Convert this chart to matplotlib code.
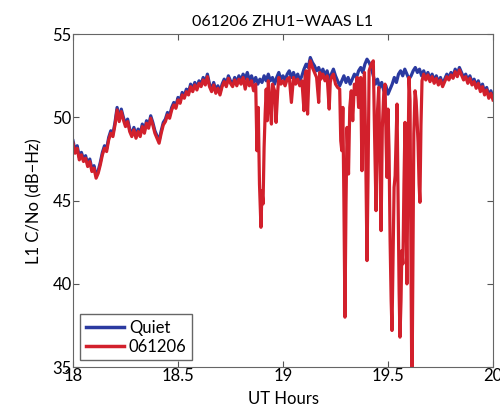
import numpy as np
import matplotlib
matplotlib.use("Agg")
from matplotlib import pyplot as plt

plt.rcParams["font.family"] = ["Lato", "DejaVu Sans"]

# quiet-day C/No, one sample every 0.01 h from 18.00 to 20.00
quiet_t = np.round(np.linspace(18.0, 20.0, 201), 3)
quiet_v = [
    48.6, 48.0, 48.3, 47.6, 47.9, 47.5, 47.7, 47.2, 47.5, 46.9,
    47.1, 46.5, 46.8, 47.3, 47.9, 48.3, 48.1, 48.8, 49.2, 49.0,
    49.7, 50.6, 49.9, 50.5, 50.0, 49.6, 49.9, 49.3, 49.0, 49.4,
    48.9, 49.3, 49.0, 49.6, 49.2, 49.8, 49.5, 50.1, 49.7, 49.2,
    48.9, 48.6, 49.2, 49.7, 49.9, 50.3, 50.1, 50.6, 50.9, 50.7,
    51.2, 51.0, 51.5, 51.3, 51.7, 51.5, 52.0, 51.7, 52.1, 51.8,
    52.2, 52.0, 52.4, 52.1, 52.6, 52.0, 51.7, 52.1, 51.6, 51.9,
    51.5, 52.0, 52.3, 52.0, 52.5, 52.2, 52.0, 52.4, 52.1, 52.5,
    52.2, 52.6, 52.3, 52.7, 52.2, 52.5, 52.1, 52.4, 52.0, 52.3,
    52.1, 52.5, 52.2, 52.6, 52.2, 52.4, 52.0, 52.4, 52.7, 52.3,
    52.5, 52.2, 52.6, 52.8, 52.4, 52.7, 52.3, 52.6, 52.2, 52.5,
    52.9, 53.2, 53.0, 53.6, 53.3, 53.1, 52.8, 53.0, 52.6, 52.9,
    52.5, 52.8, 52.3, 52.6, 52.9, 52.5, 52.2, 51.9, 52.2, 52.5,
    52.1, 52.4, 52.0, 52.3, 52.6, 52.4, 52.8, 53.0, 52.7, 53.2,
    53.5, 53.3, 53.0, 52.5, 52.0, 52.3, 51.8, 52.1, 51.6, 51.9,
    51.4, 51.7, 52.0, 52.4, 52.1, 52.6, 52.8, 52.5, 52.9, 52.6,
    52.3, 52.5, 52.8, 53.0, 52.7, 52.9, 52.5, 52.8, 52.4, 52.7,
    52.3, 52.6, 52.2, 52.5, 52.1, 52.4, 52.0, 52.3, 52.6, 52.4,
    52.7, 52.5, 52.9, 52.6, 53.0, 52.7, 52.4, 52.6, 52.2, 52.5,
    52.1, 52.3, 51.9, 52.2, 51.7, 52.0, 51.5, 51.8, 51.3, 51.6,
    51.2,
]

# 061206 during the scintillation period (18.78 - 19.67 h)
storm_t = [
    18.780, 18.790, 18.800, 18.810, 18.820, 18.830, 18.840, 18.850, 18.860, 18.870,
    18.876, 18.882, 18.888, 18.895, 18.900, 18.905, 18.910, 18.915, 18.920, 18.925,
    18.930, 18.940, 18.945, 18.950, 18.960, 18.967, 18.975, 18.980, 18.990, 19.000,
    19.010, 19.020, 19.030, 19.040, 19.050, 19.060, 19.070, 19.080, 19.090, 19.100,
    19.105, 19.110, 19.117, 19.125, 19.130, 19.140, 19.150, 19.160, 19.170, 19.175,
    19.180, 19.190, 19.200, 19.210, 19.220, 19.225, 19.230, 19.240, 19.250, 19.260,
    19.270, 19.275, 19.280, 19.285, 19.290, 19.295, 19.300, 19.305, 19.312, 19.318,
    19.325, 19.332, 19.340, 19.347, 19.353, 19.360, 19.370, 19.376, 19.382, 19.388,
    19.393, 19.400, 19.405, 19.410, 19.420, 19.430, 19.436, 19.443, 19.450, 19.456,
    19.462, 19.467, 19.473, 19.480, 19.486, 19.491, 19.495, 19.500, 19.505, 19.510,
    19.515, 19.519, 19.524, 19.529, 19.534, 19.539, 19.543, 19.548, 19.553, 19.557,
    19.562, 19.566, 19.571, 19.576, 19.581, 19.586, 19.590, 19.595, 19.600, 19.605,
    19.610, 19.614, 19.618, 19.623, 19.629, 19.634, 19.638, 19.643, 19.648, 19.652,
    19.657, 19.662, 19.670,
]
storm_v = [
    51.9, 52.3, 52.0, 52.4, 51.7, 52.3, 51.9, 52.2, 51.6, 52.0,
    48.0, 50.6, 46.0, 43.4, 45.6, 44.8, 48.2, 50.2, 51.7, 49.8,
    52.2, 50.4, 49.6, 52.0, 51.6, 49.7, 51.6, 52.4, 52.0, 52.2,
    51.9, 52.3, 52.4, 50.9, 52.4, 52.0, 52.3, 51.9, 52.2, 50.4,
    52.5, 52.8, 50.2, 53.0, 53.4, 53.0, 52.7, 52.4, 50.9, 52.7,
    52.3, 52.6, 52.2, 52.5, 50.5, 52.1, 52.4, 52.6, 52.0, 51.8,
    51.7, 48.6, 48.0, 50.6, 45.0, 38.0, 44.8, 49.4, 46.6, 50.6,
    51.6, 49.8, 52.0, 51.4, 52.4, 50.6, 52.4, 46.8, 51.6, 52.7,
    48.8, 41.4, 46.5, 52.8, 53.2, 53.4, 49.0, 44.4, 50.4, 51.8,
    47.0, 43.2, 49.4, 51.5, 52.0, 48.5, 46.4, 50.5, 48.0, 42.6,
    39.0, 37.2, 41.5, 45.8, 46.5, 49.0, 50.8, 45.0, 39.5, 36.8,
    39.0, 42.0, 41.2, 46.0, 49.7, 44.0, 40.0, 47.0, 52.4, 51.0,
    40.0, 33.0, 40.0, 49.0, 51.6, 51.0, 50.0, 48.5, 46.0, 44.9,
    49.5, 52.2, 52.6,
]

# outside the disturbed window the 061206 curve sits on the quiet one
before = quiet_t < 18.78
after = quiet_t > 19.67
quiet_v = np.array(quiet_v)
day_t = np.concatenate([quiet_t[before], storm_t, quiet_t[after]])
day_v = np.concatenate([quiet_v[before] - 0.15, storm_v, quiet_v[after] - 0.15])

fig = plt.figure(figsize=(5.0, 4.12), dpi=100)
ax = fig.add_axes([0.146, 0.109, 0.84, 0.808])

ax.plot(quiet_t, quiet_v, color="#2b3aa0", lw=2.3, label="Quiet")
ax.plot(day_t, day_v, color="#d2202c", lw=2.3, label="061206")

ax.set_xlim(18, 20)
ax.set_ylim(35, 55)
ax.set_xticks([18, 18.5, 19, 19.5, 20])
ax.set_xticklabels(["18", "18.5", "19", "19.5", "20"])
ax.set_yticks([35, 40, 45, 50, 55])
ax.tick_params(direction="in", top=True, right=True, labelsize=12,
               length=4, color="#555555", pad=1)
for s in ax.spines.values():
    s.set_color("#666666")

ax.set_title("061206 ZHU1\u2212WAAS L1", fontsize=11.5, pad=6)
ax.set_xlabel("UT Hours", fontsize=12, labelpad=5)
ax.set_ylabel("L1 C/No (dB\u2212Hz)", fontsize=12, labelpad=7)

leg = ax.legend(loc="lower left", fontsize=12, fancybox=False, framealpha=1,
                edgecolor="#666666", handlelength=2.3, handletextpad=0.3,
                borderpad=0.35, labelspacing=0.15, borderaxespad=0.4)
for line in leg.get_lines():
    line.set_linewidth(2.5)

fig.savefig("out.png", dpi=100)
